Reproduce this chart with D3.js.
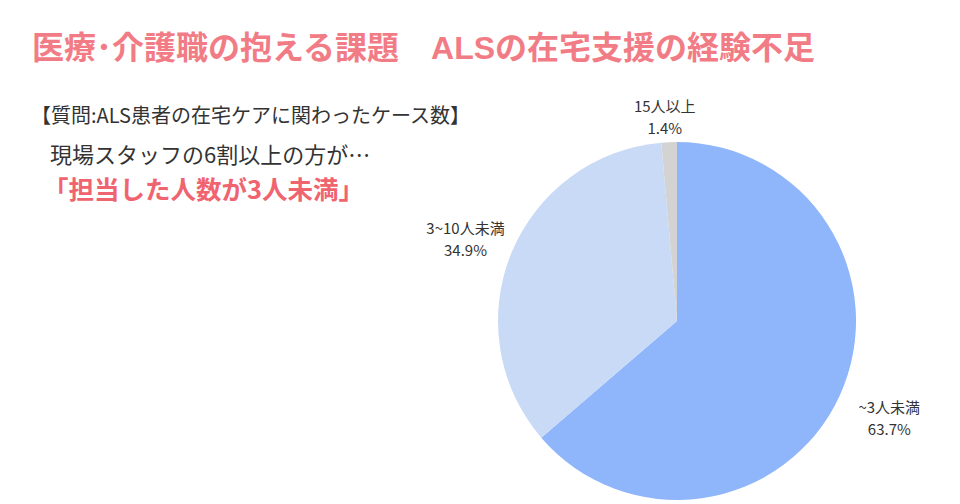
<!DOCTYPE html>
<html>
<head>
<meta charset="utf-8">
<script src="https://cdn.jsdelivr.net/npm/d3@7"></script>
<style>
  html, body { margin: 0; padding: 0; background: #fff; }
  svg { display: block; font-family: "Noto Sans CJK JP", "Noto Sans", sans-serif; }
</style>
</head>
<body>
<svg id="chart" width="960" height="504"></svg>
<script>
// data
const categories = ['~3人未満', '3~10人未満', '15人以上'];
const values = [63.7, 34.9, 1.4];
const valueLabels = ['63.7%', '34.9%', '1.4%'];
const colors = ['#8fb5fb', '#c8daf6', '#d3d3d3'];

const svg = d3.select('#chart');

// 見出し
svg.append('text')
    .attr('x', 32)
    .attr('y', 59)
    .attr('font-size', 32)
    .attr('font-weight', 'bold')
    .attr('fill', '#f27c86')
    .style('font-family', '"Liberation Sans", "Noto Sans CJK JP", sans-serif')
    .text('医療･介護職の抱える課題\u3000ALSの在宅支援の経験不足');

svg.append('text')
    .attr('x', 31)
    .attr('y', 123)
    .attr('font-size', 20)
    .attr('fill', '#333')
    .text('【質問:ALS患者の在宅ケアに関わったケース数】');

svg.append('text')
    .attr('x', 50)
    .attr('y', 163)
    .attr('font-size', 22)
    .attr('fill', '#333')
    .text('現場スタッフの6割以上の方が…');

svg.append('text')
    .attr('x', 43)
    .attr('y', 199)
    .attr('font-size', 25.5)
    .attr('font-weight', 'bold')
    .attr('fill', '#f0646f')
    .text('「担当した人数が3人未満」');

// 円グラフ
const cx = 677, cy = 321, r = 179;
const pie = d3.pie().sort(null).value(d => d.value);
const arc = d3.arc().innerRadius(0).outerRadius(r);

const data = categories.map((c, i) => ({ name: c, value: values[i], label: valueLabels[i], color: colors[i] }));
const arcs = pie(data);

const g = svg.append('g').attr('transform', 'translate(' + cx + ',' + cy + ')');

g.selectAll('path.slice')
    .data(arcs)
    .enter()
    .append('path')
    .attr('class', 'slice')
    .attr('d', arc)
    .attr('fill', d => d.data.color);

// ラベル位置(手動で少し調整)
const labelOffset = [[6, 2], [-4, 2], [-3, 7]];
const labelRadius = [r + 48, r + 45, r + 32];

const lab = g.selectAll('g.lab')
    .data(arcs)
    .enter()
    .append('g')
    .attr('class', 'lab')
    .attr('transform', function(d, i) {
        let a = (d.startAngle + d.endAngle) / 2;
        let rr = labelRadius[i];
        let x = Math.sin(a) * rr + labelOffset[i][0];
        let y = -Math.cos(a) * rr + labelOffset[i][1];
        return 'translate(' + x + ',' + y + ')';
    });

lab.append('text')
    .attr('text-anchor', 'middle')
    .attr('y', -5)
    .attr('font-size', 15)
    .attr('fill', '#333')
    .text(d => d.data.name);

lab.append('text')
    .attr('text-anchor', 'middle')
    .attr('y', 17)
    .attr('font-size', 15)
    .attr('fill', '#333')
    .text(d => d.data.label);
</script>
</body>
</html>
